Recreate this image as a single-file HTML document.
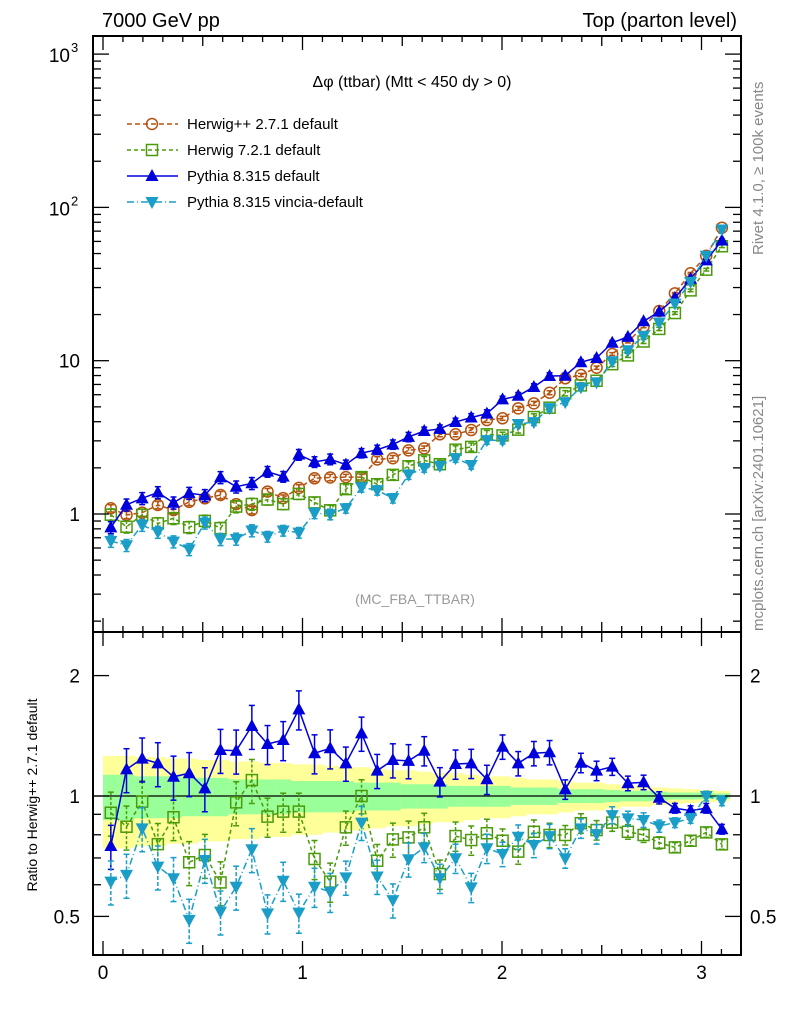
<!DOCTYPE html>
<html><head><meta charset="utf-8"><style>
body{margin:0;background:#fff}
svg{display:block;font-family:"Liberation Sans",sans-serif}
</style></head><body>
<svg id="c" width="786" height="1024" xmlns="http://www.w3.org/2000/svg">
<rect x="0" y="0" width="786" height="1024" fill="#fff"/>
<g id="bands"></g><g id="series"></g><g id="axes"></g>
<text x="102" y="27" font-size="20">7000 GeV pp</text>
<text x="737" y="27" font-size="20" text-anchor="end">Top (parton level)</text>
<text x="412" y="87" font-size="16" text-anchor="middle">Δφ (ttbar) (Mtt &lt; 450 dy &gt; 0)</text>
<text x="415" y="604" font-size="14" fill="#999" text-anchor="middle">(MC_FBA_TTBAR)</text>
<text transform="translate(763,255) rotate(-90)" font-size="15" fill="#888">Rivet 4.1.0, ≥ 100k events</text>
<text transform="translate(763,631) rotate(-90)" font-size="15" fill="#888">mcplots.cern.ch [arXiv:2401.10621]</text>
<text transform="translate(37,795) rotate(-90)" font-size="14" text-anchor="middle">Ratio to Herwig++ 2.7.1 default</text>
<g id="legend"></g>
</svg>
<script>
const herwigMain=[1.09,0.985,1.02,1.145,1.06,1.20,1.266,1.33,1.16,1.06,1.40,1.27,1.48,1.71,1.73,1.74,1.74,2.27,2.31,2.6,2.68,3.31,3.31,3.53,4.10,4.21,4.89,5.27,6.18,7.68,8.07,9.0,11.06,13.3,16.7,21.1,27.5,37.2,48.4,73.7];
const pythiaRatio=[0.75,1.166,1.24,1.207,1.117,1.14,1.045,1.303,1.298,1.496,1.349,1.38,1.647,1.279,1.316,1.207,1.434,1.157,1.23,1.224,1.298,1.086,1.202,1.207,1.101,1.328,1.207,1.279,1.286,1.039,1.211,1.157,1.184,1.076,1.082,0.99,0.932,0.919,0.932,0.826];
const herwig7Ratio=[0.908,0.838,0.968,0.758,0.885,0.683,0.712,0.608,0.964,1.096,0.888,0.914,0.914,0.696,0.611,0.835,1.0,0.689,0.779,0.788,0.835,0.638,0.794,0.776,0.807,0.773,0.726,0.814,0.799,0.799,0.855,0.822,0.858,0.814,0.799,0.764,0.744,0.773,0.811,0.757];
const vinciaRatio=[0.611,0.635,0.83,0.666,0.623,0.49,0.692,0.514,0.593,0.736,0.509,0.614,0.511,0.593,0.576,0.626,0.858,0.629,0.549,0.695,0.744,0.623,0.699,0.591,0.74,0.716,0.791,0.754,0.794,0.699,0.83,0.803,0.896,0.879,0.871,0.841,0.858,0.879,1.0,0.973];
const relErr=[0.09,0.09,0.09,0.09,0.09,0.09,0.09,0.09,0.09,0.09,0.08,0.08,0.08,0.08,0.08,0.07,0.07,0.07,0.07,0.07,0.06,0.06,0.06,0.06,0.06,0.05,0.05,0.05,0.05,0.04,0.04,0.04,0.035,0.03,0.03,0.025,0.02,0.02,0.02,0.02];
const yellowBand=[0.26,0.26,0.25,0.25,0.24,0.24,0.23,0.23,0.22,0.22,0.21,0.21,0.2,0.2,0.19,0.18,0.18,0.17,0.16,0.16,0.15,0.14,0.14,0.13,0.12,0.12,0.11,0.1,0.1,0.09,0.08,0.08,0.07,0.06,0.06,0.05,0.045,0.04,0.035,0.03];
const greenBand=[0.13,0.13,0.12,0.12,0.12,0.11,0.11,0.11,0.1,0.1,0.1,0.1,0.09,0.09,0.09,0.09,0.08,0.08,0.08,0.07,0.07,0.07,0.06,0.06,0.06,0.06,0.05,0.05,0.05,0.04,0.04,0.04,0.035,0.03,0.03,0.025,0.02,0.02,0.018,0.015];
const xTicks=[0,1,2,3];
const NB=40,BW=Math.PI/NB;
const X0=93,X1=741,MT=36,MB=632,RB=955;
const sx=v=>103+199.5*v;
const sy=v=>514-153.3*Math.log10(v);
const sr=v=>796-400*Math.log10(v);
const NS="http://www.w3.org/2000/svg";
function mk(tag,attrs,parent){const e=document.createElementNS(NS,tag);for(const k in attrs)e.setAttribute(k,attrs[k]);parent.appendChild(e);return e;}
const bands=document.getElementById('bands'),ser=document.getElementById('series'),ax=document.getElementById('axes'),leg=document.getElementById('legend');
// bands
for(let i=0;i<NB;i++){
 const xa=sx(i*BW),xb=sx((i+1)*BW);
 const y=mk('rect',{x:xa,y:sr(1+yellowBand[i]),width:xb-xa+0.5,height:sr(1-yellowBand[i])-sr(1+yellowBand[i]),fill:'#ffff99'},bands);
 
 
 const g=mk('rect',{x:xa,y:sr(1+greenBand[i]),width:xb-xa+0.5,height:sr(1-greenBand[i])-sr(1+greenBand[i]),fill:'#99ff99'},bands);
 
 
}
mk('line',{x1:X0,x2:X1,y1:sr(1),y2:sr(1),stroke:'#000','stroke-width':1.2},bands);
const series=[
 {name:'herwig-pp',color:'#b5520e',dash:'5,3',marker:'circle',ratio:herwigMain.map(()=>1),label:'Herwig++ 2.7.1 default'},
 {name:'herwig7',color:'#4a9a0a',dash:'4,3',marker:'square',ratio:herwig7Ratio,label:'Herwig 7.2.1 default'},
 {name:'pythia',color:'#0000dd',dash:'',marker:'up',ratio:pythiaRatio,label:'Pythia 8.315 default'},
 {name:'vincia',color:'#1a9ec8',dash:'7,3,1,3',marker:'down',ratio:vinciaRatio,label:'Pythia 8.315 vincia-default'}];
function marker(s,x,y,parent){
 let e;
 if(s.marker==='circle')e=mk('circle',{cx:x,cy:y,r:5.5,fill:'none',stroke:s.color,'stroke-width':1.5},parent);
 else if(s.marker==='square')e=mk('rect',{x:x-5.5,y:y-5.5,width:11,height:11,fill:'none',stroke:s.color,'stroke-width':1.5},parent);
 else if(s.marker==='up')e=mk('path',{d:`M${x},${y-7}L${x+6.5},${y+5}L${x-6.5},${y+5}Z`,fill:s.color},parent);
 else e=mk('path',{d:`M${x},${y+7}L${x+6.5},${y-5}L${x-6.5},${y-5}Z`,fill:s.color},parent);
 
 
}
series.forEach((s,si)=>{
 const g=mk('g',{},ser);
 
 
 const main=herwigMain.map((h,i)=>h*s.ratio[i]);
 const err=relErr.map(e=>si===0?e*0.6:e);
 const pm=[],pr=[];
 for(let i=0;i<NB;i++){
  const x=sx((i+0.5)*BW);
  pm.push(x+','+sy(main[i]));pr.push(x+','+sr(s.ratio[i]));
 }
 const la={fill:'none',stroke:s.color,'stroke-width':1.5};if(s.dash)la['stroke-dasharray']=s.dash;
 const l1=mk('polyline',Object.assign({points:pm.join(' ')},la),g);
 
 
 if(si>0){const l2=mk('polyline',Object.assign({points:pr.join(' ')},la),g);
 
 }
 for(let i=0;i<NB;i++){
  const x=sx((i+0.5)*BW);
  const ea={stroke:s.color,'stroke-width':1.5};if(s.dash)ea['stroke-dasharray']=s.dash==='7,3,1,3'?'4,2':'3,2';
  const ym1=sy(main[i]*(1+err[i])),ym2=sy(main[i]*(1-err[i]));
  mk('line',Object.assign({x1:x,x2:x,y1:ym1,y2:ym2},ea),g);
  mk('line',{x1:x-3,x2:x+3,y1:ym1,y2:ym1,stroke:s.color,'stroke-width':1.5},g);
  mk('line',{x1:x-3,x2:x+3,y1:ym2,y2:ym2,stroke:s.color,'stroke-width':1.5},g);
  marker(s,x,sy(main[i]),g);
  if(si>0){
   const r=s.ratio[i],re=err[i]*1.4;
   const yr1=sr(r*(1+re)),yr2=Math.min(sr(r*(1-re)),RB);
   mk('line',Object.assign({x1:x,x2:x,y1:yr1,y2:yr2},ea),g);
   mk('line',{x1:x-3,x2:x+3,y1:yr1,y2:yr1,stroke:s.color,'stroke-width':1.5},g);
   mk('line',{x1:x-3,x2:x+3,y1:yr2,y2:yr2,stroke:s.color,'stroke-width':1.5},g);
   marker(s,x,sr(r),g);
  }
 }
 // legend
 const ly=124+26*si;
 const lg=mk('g',{},leg);
 
 
 mk('line',Object.assign({x1:127,x2:178,y1:ly,y2:ly},la),lg);
 marker(s,152,ly,lg);
 const t=mk('text',{x:187,y:ly+5,'font-size':15},lg);t.textContent=s.label;
});
// frames
[[MT,MB],[MB,RB]].forEach(([a,b],k)=>{
 const r=mk('rect',{x:X0,y:a,width:X1-X0,height:b-a,fill:'none',stroke:'#000','stroke-width':2},ax);
 
 
});
// x ticks
for(let t=-0.0;t<=3.2001;t+=0.1){
 const tv=Math.round(t*10)/10,x=sx(tv);
 const maj=Math.abs(tv-Math.round(tv))<1e-6,half=Math.abs(tv*10%10-5)<1e-6;
 const L=maj?14:(half?10:6);
 [[MT,1],[MB,-1],[MB,1],[RB,-1]].forEach(([y,d])=>mk('line',{x1:x,x2:x,y1:y,y2:y+d*L,stroke:'#000','stroke-width':1.3},ax));
}
xTicks.forEach(v=>{const t=mk('text',{x:sx(v),y:979,'font-size':19,'text-anchor':'middle'},ax);t.textContent=v;
 
 });
// main y ticks
for(let d=-1;d<=3;d++)for(let m=1;m<10;m++){
 const v=m*Math.pow(10,d),y=sy(v);if(y<MT||y>MB)continue;
 const L=m===1?16:8;
 mk('line',{x1:X0,x2:X0+L,y1:y,y2:y,stroke:'#000','stroke-width':1.3},ax);
 mk('line',{x1:X1,x2:X1-L,y1:y,y2:y,stroke:'#000','stroke-width':1.3},ax);
}
[['1',1],['10',10]].forEach(([s,v])=>{const t=mk('text',{x:80,y:sy(v)+7,'font-size':19,'text-anchor':'end'},ax);t.textContent=s;
 
 });
[[2,100],[3,1000]].forEach(([e,v])=>{const t=mk('text',{x:70,y:sy(v)+8,'font-size':19,'text-anchor':'end'},ax);t.textContent='10';
 
 
 const s=mk('text',{x:71,y:sy(v)-2,'font-size':13},ax);s.textContent=e;});
// ratio y ticks
for(let d=-1;d<=0;d++)for(let m=1;m<10;m++){
 const v=m*Math.pow(10,d),y=sr(v);if(y<MB||y>RB)continue;
 const L=(v===1||v===2||v===0.5)?16:8;
 mk('line',{x1:X0,x2:X0+L,y1:y,y2:y,stroke:'#000','stroke-width':1.3},ax);
 mk('line',{x1:X1,x2:X1-L,y1:y,y2:y,stroke:'#000','stroke-width':1.3},ax);
}
[['2',2],['1',1],['0.5',0.5]].forEach(([s,v])=>{
 const t=mk('text',{x:80,y:sr(v)+7,'font-size':19,'text-anchor':'end'},ax);t.textContent=s;
 
 
 const t2=mk('text',{x:750,y:sr(v)+7,'font-size':19},ax);t2.textContent=s;
 
 
});
</script>
</body></html>
